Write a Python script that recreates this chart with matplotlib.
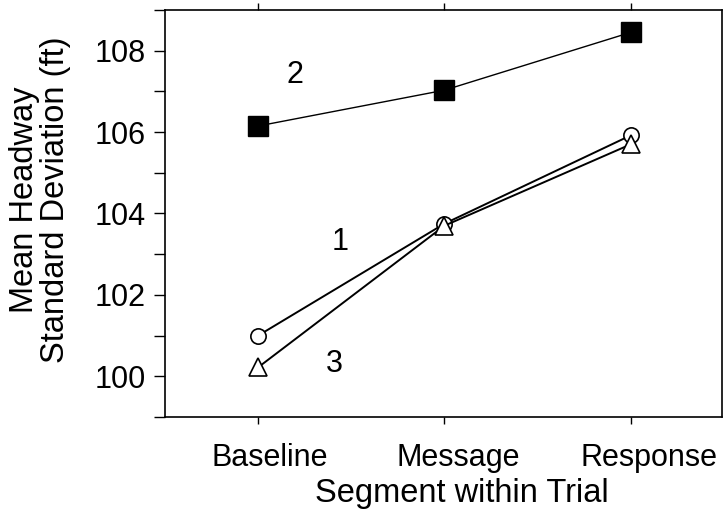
import matplotlib
matplotlib.use("Agg")
import matplotlib.pyplot as plt
import matplotlib.transforms as mtransforms
from matplotlib.ticker import MultipleLocator

plt.rcParams['font.family'] = ['Liberation Sans', 'DejaVu Sans']

segmentos = ["Baseline", "Message", "Response"]
grupo_1 = [101.0, 103.75, 105.92]   # circulos
grupo_2 = [106.15, 107.03, 108.45]  # cuadrados
grupo_3 = [100.22, 103.70, 105.70]  # triangulos
etiquetas = ["1", "2", "3"]
fs = 22

fig = plt.figure(figsize=(7.25, 5.16), dpi=100)
ax = fig.add_axes([0.2276, 0.1919, 0.7683, 0.7887])

x = list(range(len(segmentos)))
ax.plot(x, grupo_2, color="black", lw=1.0, marker="s", ms=14,
        mfc="black", mec="black", zorder=3)
ax.plot(x, grupo_1, color="black", lw=1.4, marker="o", ms=11,
        mfc="white", mec="black", mew=1.2, zorder=3)
ax.plot(x, grupo_3, color="black", lw=1.4, marker="^", ms=13,
        mfc="white", mec="black", mew=1.2, zorder=4)

# numeros de grupo dentro del grafico
ax.text(0.2, 107.4, etiquetas[1], fontsize=fs, ha="center", va="center")
ax.text(0.44, 103.3, etiquetas[0], fontsize=fs, ha="center", va="center")
ax.text(0.41, 100.3, etiquetas[2], fontsize=fs, ha="center", va="center")

ax.set_xlim(-0.5, 2.49)
ax.set_ylim(99, 109)
ax.set_xticks(x)
ax.set_xticklabels(segmentos, fontsize=fs)
ax.yaxis.set_minor_locator(MultipleLocator(1))
ax.set_yticks([100, 102, 104, 106, 108])
ax.tick_params(axis="y", which="both", direction="out", length=8, width=1,
               labelsize=fs, pad=6)
ax.tick_params(axis="x", direction="out", length=5, width=1, top=True,
               pad=14)

# etiquetas del eje x algo corridas a la derecha como en el original
for lab, dx in zip(ax.get_xticklabels(), [12, 14, 18]):
    offset = mtransforms.ScaledTranslation(dx / 100, 0, fig.dpi_scale_trans)
    lab.set_transform(lab.get_transform() + offset)

ax.set_xlabel("Segment within Trial", fontsize=23.5)
ax.xaxis.set_label_coords(0.533, -0.15)
ax.set_ylabel("Mean Headway\nStandard Deviation (ft)", fontsize=23.5,
              linespacing=1.0)
ax.yaxis.set_label_coords(-0.168, 0.534)

for s in ax.spines.values():
    s.set_linewidth(1.2)

fig.savefig("out.png", dpi=100)
